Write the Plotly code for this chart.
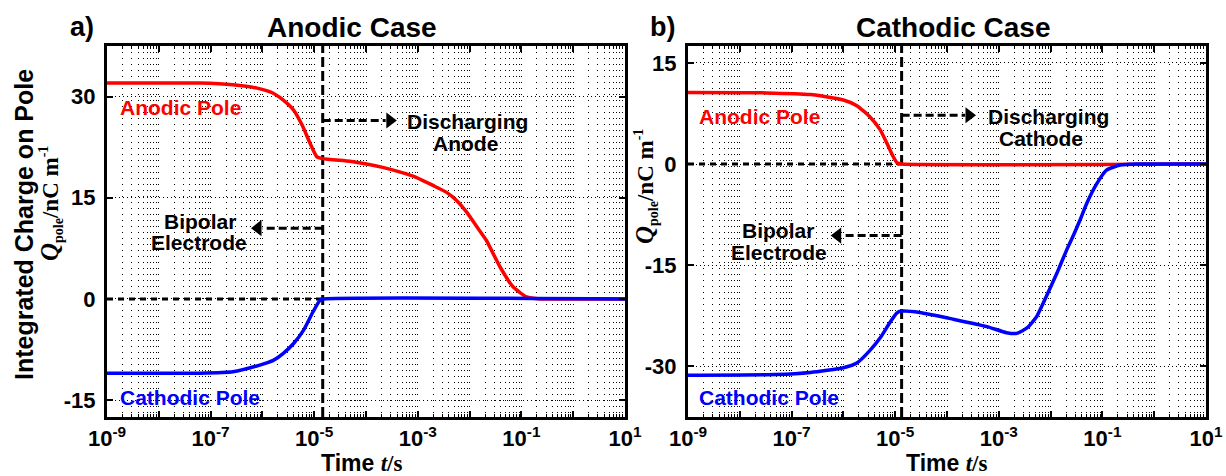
import plotly.graph_objects as go

W, H = 1226, 476

# ---------------- data ----------------
# panel a) Anodic Case
t_a_anodic = [1e-9, 6.3e-8, 2.7e-7, 7.9e-7, 1.62e-6, 2.5e-6, 4.0e-6, 6.0e-6, 8.3e-6, 1.12e-5,
              1.45e-5, 4.9e-5, 1.02e-4, 2.1e-4, 4.6e-4, 9.5e-4, 2.0e-3, 3.6e-3, 5.6e-3, 8.7e-3,
              1.38e-2, 2.1e-2, 3.9e-2, 6.9e-2, 0.126, 0.23, 1.0, 10.0]
q_a_anodic = [32.0, 32.0, 31.75, 31.25, 30.5, 29.5, 28.0, 25.6, 23.1, 21.1,
              20.8, 20.4, 20.0, 19.5, 18.8, 18.0, 16.8, 15.8, 14.6, 12.9,
              10.7, 8.7, 4.7, 1.8, 0.3, 0.0, 0.0, 0.0]

t_a_cathodic = [1e-9, 6.3e-8, 2.7e-7, 8.9e-7, 1.62e-6, 2.5e-6, 4.0e-6, 6.2e-6, 9.5e-6, 1.29e-5, 1.45e-5, 10.0]
q_a_cathodic = [-11.0, -11.0, -10.8, -9.8, -9.1, -8.1, -6.6, -4.65, -1.9, -0.2, 0.0, 0.0]

# panel b) Cathodic Case
t_b_anodic = [1e-9, 3.2e-8, 2.3e-7, 1.0e-6, 1.82e-6, 3.2e-6, 5.1e-6, 6.9e-6, 9.1e-6, 1.1e-5, 1.33e-5, 10.0]
q_b_anodic = [10.6, 10.55, 10.3, 9.5, 8.65, 7.05, 5.1, 3.1, 1.15, 0.15, 0.0, 0.0]

t_b_cathodic = [1e-9, 5e-8, 2.3e-7, 1e-6, 1.82e-6, 3.2e-6, 5.1e-6, 7.9e-6, 1.07e-5, 1.33e-5,
                3.0e-5, 1.32e-4, 5.9e-4, 1.41e-3, 2.24e-3, 3.5e-3, 5.4e-3, 8.3e-3, 1.32e-2, 2.0e-2,
                2.75e-2, 3.7e-2, 5.0e-2, 7.8e-2, 0.12, 0.22, 0.46, 10.0]
q_b_cathodic = [-31.3, -31.2, -30.9, -30.2, -29.5, -27.7, -25.8, -23.5, -22.1, -21.8,
                -22.0, -23.0, -24.1, -25.0, -25.1, -24.3, -22.6, -19.6, -16.2, -12.9,
                -10.6, -8.3, -5.8, -2.9, -0.9, -0.15, 0.0, 0.0]

# switching time (vertical dashed line) per panel
t_switch_a = 1.46e-5
t_switch_b = 1.33e-5

# axes
x_tickvals = [1e-9, 1e-8, 1e-7, 1e-6, 1e-5, 1e-4, 1e-3, 1e-2, 1e-1, 1e0, 1e1]
x_ticktext = ["10<sup>-9</sup>", "", "10<sup>-7</sup>", "", "10<sup>-5</sup>", "",
              "10<sup>-3</sup>", "", "10<sup>-1</sup>", "", "10<sup>1</sup>"]
x_minor = [m * d for d in x_tickvals[:-1] for m in range(2, 10)]

ya_tickvals = [-15, 0, 15, 30]
ya_ticktext = ["-15", "0", "15", "30"]
yb_tickvals = [-30, -15, 0, 15]
yb_ticktext = ["-30", "-15", "0", "15"]
ya_range = [-17.5, 37.5]
yb_range = [-37.5, 17.5]

RED = "#ff0000"
BLUE = "#0000ff"
SANS = "Liberation Sans, Arial, sans-serif"
SERIF = "Liberation Serif, Times New Roman, serif"

fig = go.Figure()

def add_panel(xa, ya, yr, ts, t_an, q_an, t_ca, q_ca, arr_r, arr_l):
    # dotted zero line up to switch
    fig.add_trace(go.Scatter(x=[1e-9, ts], y=[0, 0], mode="lines", xaxis=xa, yaxis=ya,
                             line=dict(color="black", width=3, dash="6px,5px"), hoverinfo="skip"))
    # vertical dashed line
    fig.add_trace(go.Scatter(x=[ts, ts], y=yr, mode="lines", xaxis=xa, yaxis=ya,
                             line=dict(color="black", width=3, dash="10px,4px"), hoverinfo="skip"))
    # arrows: (y, x_end, x_head)
    for (yv, xe, xh, sym) in (arr_r + ("triangle-right",), arr_l + ("triangle-left",)):
        fig.add_trace(go.Scatter(x=[ts, xe], y=[yv, yv], mode="lines", xaxis=xa, yaxis=ya,
                                 line=dict(color="black", width=3, dash="8px,4px"), hoverinfo="skip"))
        fig.add_trace(go.Scatter(x=[xh], y=[yv], mode="markers", xaxis=xa, yaxis=ya,
                                 marker=dict(symbol=sym, size=14, color="black"), hoverinfo="skip"))
    fig.add_trace(go.Scatter(x=t_an, y=q_an, mode="lines", xaxis=xa, yaxis=ya,
                             line=dict(color=RED, width=3.5, shape="spline", smoothing=0.5)))
    fig.add_trace(go.Scatter(x=t_ca, y=q_ca, mode="lines", xaxis=xa, yaxis=ya,
                             line=dict(color=BLUE, width=3.5, shape="spline", smoothing=0.5)))

add_panel("x", "y", ya_range, t_switch_a, t_a_anodic, q_a_anodic, t_a_cathodic, q_a_cathodic,
          (26.45, 10**-3.62, 10**-3.54), (10.5, 10**-6.0, 10**-6.085))
add_panel("x2", "y2", yb_range, t_switch_b, t_b_anodic, q_b_anodic, t_b_cathodic, q_b_cathodic,
          (7.24, 10**-3.65, 10**-3.575), (-10.6, 10**-6.03, 10**-6.11))

grid_common = dict(gridcolor="black", gridwidth=1)
def xaxis_cfg(dom, anchor):
    return dict(type="log", range=[-9, 1], domain=dom, anchor=anchor, automargin=False,
                showline=True, linewidth=3, linecolor="black", mirror="ticks",
                ticks="inside", ticklen=6, tickwidth=1.5, tickcolor="black",
                tickmode="array", tickvals=x_tickvals, ticktext=x_ticktext,
                tickfont=dict(family=SANS, size=22, color="black", weight="bold"),
                showgrid=True, griddash="1px,5px", **grid_common,
                minor=dict(tickmode="array", tickvals=x_minor, ticks="inside", ticklen=3,
                           tickwidth=1, tickcolor="black", showgrid=True,
                           griddash="1px,5px", gridcolor="black", gridwidth=1),
                zeroline=False, fixedrange=True)

def yaxis_cfg(dom, anchor, rng, tv, tt):
    return dict(range=rng, domain=dom, anchor=anchor, automargin=False,
                showline=True, linewidth=3, linecolor="black", mirror="ticks",
                ticks="inside", ticklen=6, tickwidth=1.5, tickcolor="black",
                tickmode="array", tickvals=tv, ticktext=tt, ticklabelstandoff=4,
                tickfont=dict(family=SANS, size=22, color="black", weight="bold"),
                showgrid=True, griddash="1px,3px", **grid_common,
                zeroline=False, fixedrange=True)

ydom = [(H - 417) / H, (H - 46) / H]
fig.update_layout(
    width=W, height=H, autosize=False,
    margin=dict(l=0, r=0, t=0, b=0, autoexpand=False),
    paper_bgcolor="white", plot_bgcolor="white",
    showlegend=False,
    xaxis=xaxis_cfg([107 / W, 625 / W], "y"),
    yaxis=yaxis_cfg(ydom, "x", ya_range, ya_tickvals, ya_ticktext),
    xaxis2=xaxis_cfg([688 / W, 1206 / W], "y2"),
    yaxis2=yaxis_cfg(ydom, "x2", yb_range, yb_tickvals, yb_ticktext),
)

def ann(text, x, y, size=21, color="black", family=SANS, xanchor="center", angle=0, bold=True):
    fig.add_annotation(text=text, x=x / W, y=1 - y / H, xref="paper", yref="paper",
                       showarrow=False, xanchor=xanchor, yanchor="middle", textangle=angle,
                       font=dict(family=family, size=size, color=color,
                                 weight="bold" if bold else "normal"))

# titles
ann("a)", 82, 27, size=27)
ann("Anodic Case", 352, 27, size=28)
ann("b)", 662, 27, size=27)
ann("Cathodic Case", 953, 27, size=28)

# axis titles
ann("Integrated Charge on Pole", 24, 225, size=25, angle=-90)
qtitle = ("<span style='font-size:25px'><i>Q</i></span>"
          "<sub><span style='font-size:14px'>pole</span></sub>/nC m"
          "<sup><span style='font-size:14px'>-1</span></sup>")
ann(qtitle, 51, 204, size=23, family=SERIF, angle=-90)
ann(qtitle, 646, 187, size=23, family=SERIF, angle=-90)
xtitle = "Time <i><span style='font-family:Liberation Serif'>t</span></i><span style='font-family:Liberation Serif'>/s</span>"
ann(xtitle, 361, 463, size=23)
ann(xtitle, 946, 463, size=23)

# curve labels
ann("Anodic Pole", 118, 108, color=RED, xanchor="left")
ann("Cathodic Pole", 118, 397, color=BLUE, xanchor="left")
ann("Anodic Pole", 697, 116, color=RED, xanchor="left")
ann("Cathodic Pole", 697, 397, color=BLUE, xanchor="left")

# region labels
ann("Discharging", 468, 121)
ann("Anode", 465, 143)
ann("Bipolar", 200, 221)
ann("Electrode", 199, 243)
ann("Discharging", 1048, 116)
ann("Cathode", 1041, 138)
ann("Bipolar", 778, 230)
ann("Electrode", 779, 252)

fig.write_html("out.html")
